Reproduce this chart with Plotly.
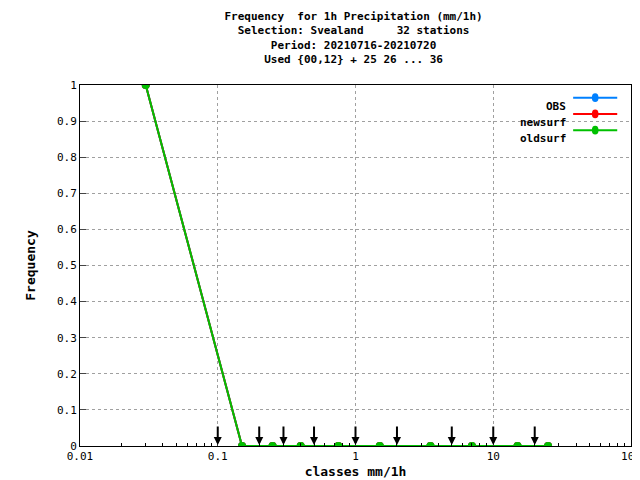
import math
import plotly.graph_objects as go

classes = [0.03, 0.15, 0.25, 0.4, 0.75, 1.5, 3.5, 7, 15, 25]
obs = [1, 0, 0, 0, 0, 0, 0, 0, 0, 0]
newsurf = [1, 0, 0, 0, 0, 0, 0, 0, 0, 0]
oldsurf = [1, 0, 0, 0, 0, 0, 0, 0, 0, 0]
limits = [0.1, 0.2, 0.3, 0.5, 1, 2, 5, 10, 20]
yticks = [0, 0.1, 0.2, 0.3, 0.4, 0.5, 0.6, 0.7, 0.8, 0.9, 1]

series = [("OBS", obs, "#0080ff"), ("newsurf", newsurf, "#ff0000"), ("oldsurf", oldsurf, "#00c000")]
FONT = "DejaVu Sans Mono"

fig = go.Figure()
for name, vals, col in series:
    fig.add_trace(go.Scatter(x=classes, y=vals, mode="lines+markers", name=name,
                             line=dict(color=col, width=2),
                             marker=dict(color=col, size=8, symbol="circle"),
                             showlegend=False))

anns = []
for v in limits:
    anns.append(dict(x=math.log10(v), y=0.003, xref="x", yref="y",
                     ax=0, ay=-20, showarrow=True, arrowhead=2, arrowsize=0.8,
                     arrowwidth=2, arrowcolor="black", text=""))

# manual legend, text left of sample line as in the original
shapes = []
for i, (name, vals, col) in enumerate(series):
    yy = 0.965 - i * 0.045
    anns.append(dict(x=0.885, y=yy, xref="paper", yref="paper", text="<b>%s</b>" % name,
                     showarrow=False, xanchor="right", font=dict(size=11, color="black", family=FONT)))
    shapes.append(dict(type="line", xref="paper", yref="paper", x0=0.895, x1=0.975,
                       y0=yy, y1=yy, line=dict(color=col, width=2)))
    shapes.append(dict(type="circle", xref="paper", yref="paper", x0=0.929, x1=0.941,
                       y0=yy - 0.012, y1=yy + 0.012, fillcolor=col, line=dict(color=col, width=0)))

fig.update_layout(
    width=640, height=480, margin=dict(l=72, r=17, t=77, b=42),
    paper_bgcolor="white", plot_bgcolor="white",
    font=dict(family=FONT, size=11, color="black"),
    title=dict(text="<b>Frequency  for 1h Precipitation (mm/1h)<br>Selection: Svealand     32 stations<br>"
                    "Period: 20210716-20210720<br>Used {00,12} + 25 26 ... 36</b>",
               x=0.54, xanchor="center", y=0.975, yanchor="top", font=dict(size=11)),
    annotations=anns, shapes=shapes,
)
fig.update_xaxes(type="log", range=[-2, 2], tickvals=[0.01, 0.1, 1, 10, 100],
                 ticktext=["0.01", "0.1", "1", "10", "100"], automargin=False,
                 ticks="inside", ticklen=6, showline=True, mirror=True, linecolor="black",
                 showgrid=True, gridcolor="#a0a0a0", griddash="dot",
                 minor=dict(ticks="inside", ticklen=3, tickcolor="black", showgrid=False, dtick="D1"),
                 zeroline=False, title=dict(text="<b>classes mm/1h</b>", standoff=4))
fig.update_yaxes(range=[0, 1], tickvals=yticks, ticktext=["%g" % t for t in yticks],
                 automargin=False, ticks="inside", ticklen=6,
                 showline=True, mirror=True, linecolor="black",
                 showgrid=True, gridcolor="#a0a0a0", griddash="dot", zeroline=False,
                 title=dict(text="<b>Frequency</b>", standoff=18))

fig.write_html("out.html")
